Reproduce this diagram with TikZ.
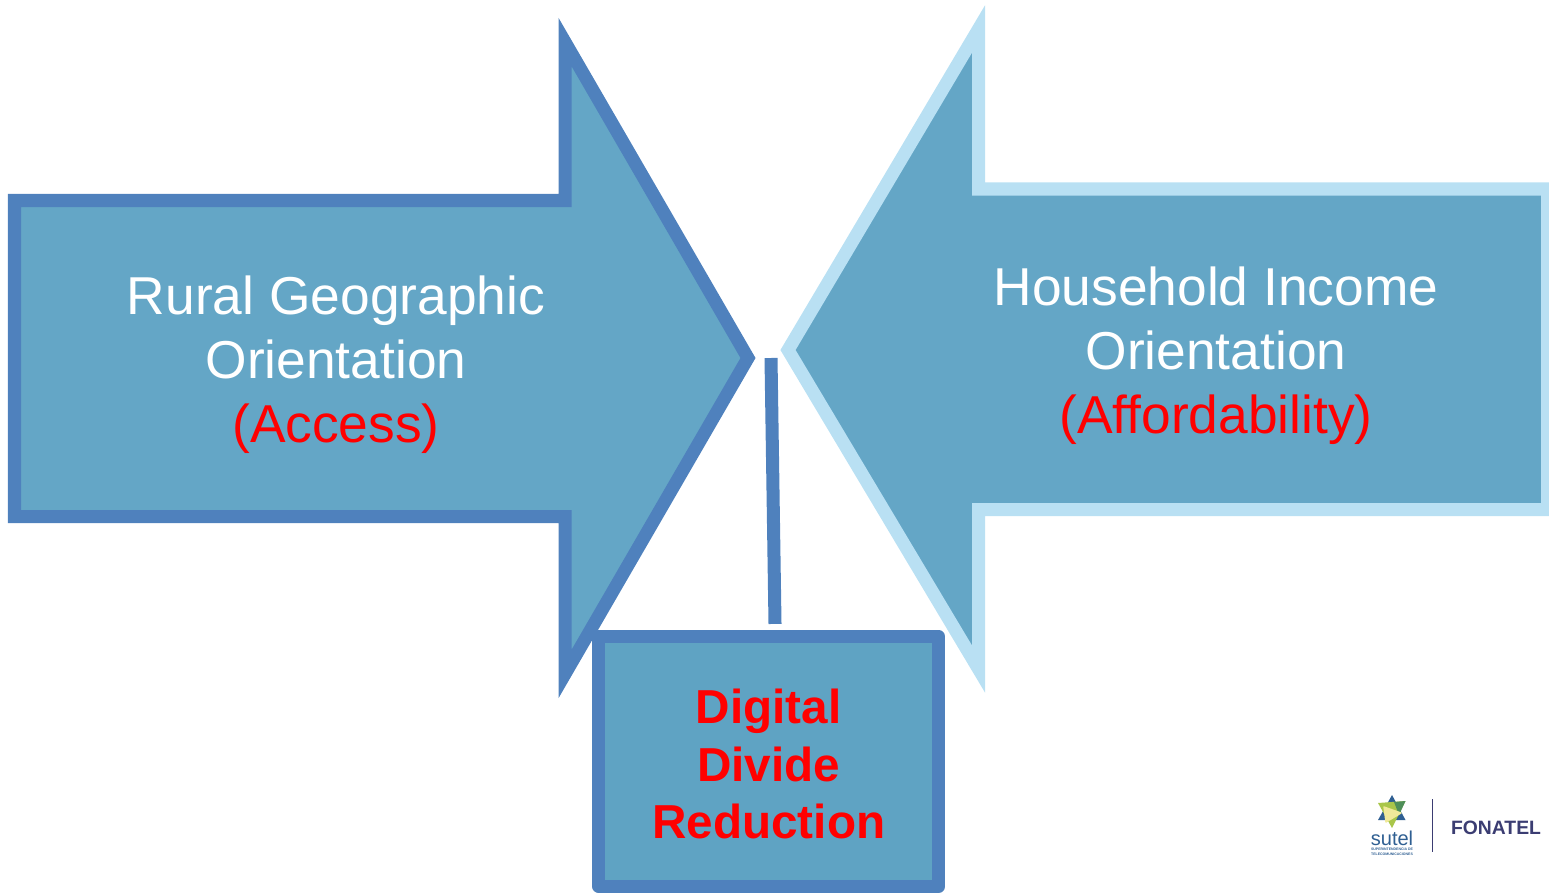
\documentclass[tikz,border=0pt]{standalone}
\usepackage{fontspec}
\setmainfont{Liberation Sans}
\definecolor{darkedge}{HTML}{4F81BD}
\definecolor{lightedge}{HTML}{B9E0F3}
\definecolor{arrowfill}{HTML}{64A6C6}
\definecolor{boxfill}{HTML}{5FA3C3}
\definecolor{alertred}{HTML}{FF0000}
\definecolor{logonavy}{HTML}{3B3D72}
\definecolor{logoblue}{HTML}{2F5F92}
\definecolor{logolime}{HTML}{A9C64A}
\definecolor{logogreen}{HTML}{4F8F5A}
\definecolor{logopale}{HTML}{F0E99A}
\tikzset{
  bigarrow/.style={line width=0.13cm, miter limit=10, fill=arrowfill},
  armlabel/.style={align=center, text=white, font=\fontsize{15.17}{18.2}\selectfont},
  goalbox/.style={draw=darkedge, line width=0.13cm, fill=boxfill, line join=round,
    minimum width=3.395cm, minimum height=2.5cm},
  goallabel/.style={align=center, text=alertred, font=\fontsize{13.55}{16.3}\selectfont\bfseries},
  link/.style={draw=darkedge, line width=0.13cm}
}
\begin{document}
\begin{tikzpicture}[x=0.01cm, y=0.01cm]
  \useasboundingbox (0,0) rectangle (1549,893);

  % left arrow
  \draw[bigarrow, draw=darkedge] (14.5,692.5) -- (565,692.5) -- (565,851) -- (748,535) -- (565,219) -- (565,376.5) -- (14.5,376.5) -- cycle;
  % right arrow
  \draw[bigarrow, draw=lightedge] (1547.5,704) -- (978.5,704) -- (978.5,864) -- (788,543) -- (978.5,224) -- (978.5,383.5) -- (1547.5,383.5) -- cycle;

  \node[armlabel] (rural) at (336,528) {Rural Geographic\\Orientation\\\textcolor{alertred}{(Access)}};
  \node[armlabel] (income) at (1216,537) {Household Income\\Orientation\\\textcolor{alertred}{(Affordability)}};

  % goal box with its stem
  \node[goalbox] (goal) at (768.75,131.5) {};
  \node[goallabel] (goaltext) at (768.75,129) {Digital\\Divide\\Reduction};
  \coordinate (stemtop) at (771,535);
  \draw[link] (stemtop) -- ([shift={(6.25,6)}]goal.north);

  % logo
  \fill[logoblue] (1392,98) -- (1405.5,73) -- (1378,73) -- cycle;
  \fill[logolime] (1378,90) -- (1405.5,92) -- (1392,65) -- cycle;
  \fill[logogreen] (1394,91) -- (1405.5,92) -- (1399,78) -- cycle;
  \fill[logopale, draw=logopale, line join=round, line width=0.4pt] (1384,86) -- (1401,80) -- (1386,71) -- cycle;
  \node[text=logoblue, font=\fontsize{5.7}{6}\selectfont, inner sep=0pt] (sutel) at (1392,55) {sutel};
  \node[text=logoblue, font=\fontsize{1}{1.3}\selectfont\bfseries, align=center, inner sep=0pt] (sutelsub) at (1392,41) {SUPERINTENDENCIA DE\\TELECOMUNICACIONES};
  \coordinate (bartop) at (1432.5,94);
  \coordinate (barbot) at (1432.5,41);
  \draw[logonavy, line width=0.45pt] (bartop) -- (barbot);
  \node[text=logonavy, font=\fontsize{5.5}{6}\selectfont\bfseries, inner sep=0pt] (fonatel) at (1496,65) {FONATEL};
\end{tikzpicture}
\end{document}
